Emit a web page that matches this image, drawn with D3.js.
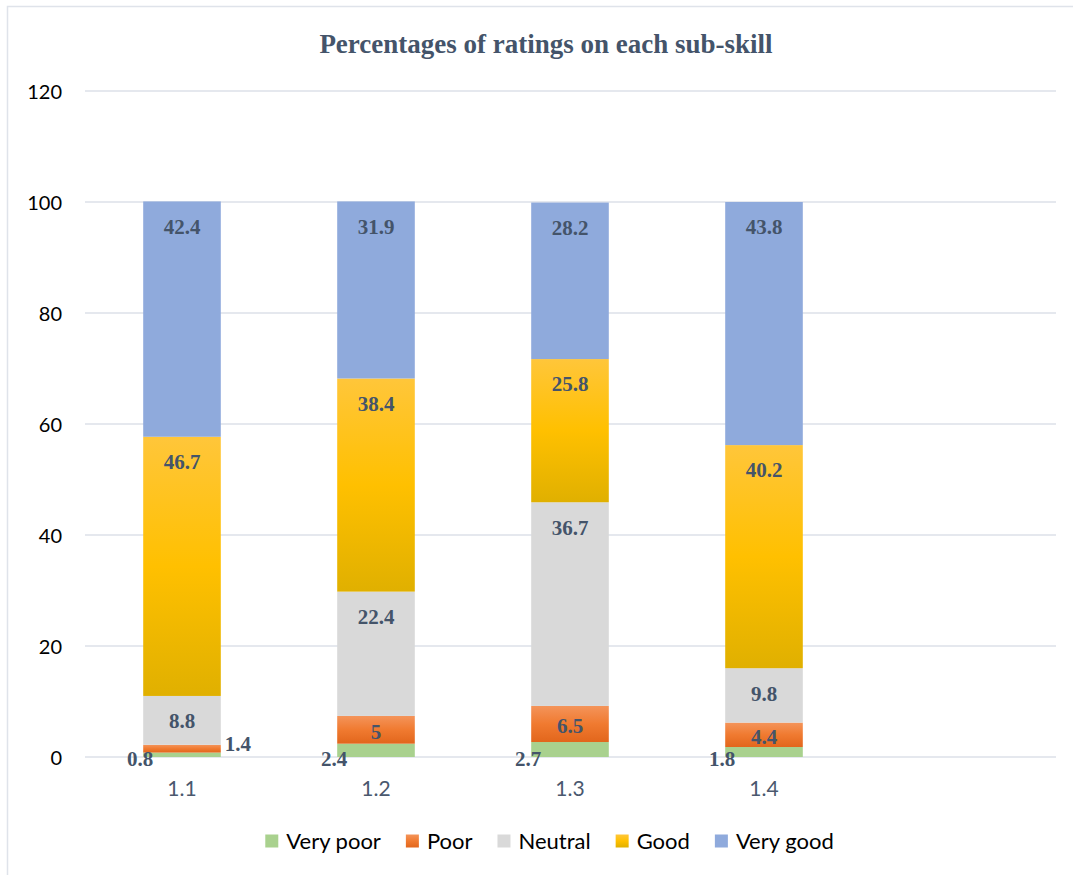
<!DOCTYPE html>
<html>
<head>
<meta charset="utf-8">
<script src="https://cdn.jsdelivr.net/npm/d3@7"></script>
<style>
  html, body { margin: 0; padding: 0; background: #fff; }
  svg { display: block; }
</style>
</head>
<body>
<svg id="chart" width="1073" height="875"></svg>
<script>
// ---- data ----
const categories = ["1.1", "1.2", "1.3", "1.4"];
const seriesNames = ["Very poor", "Poor", "Neutral", "Good", "Very good"];
const veryPoor = [0.8, 2.4, 2.7, 1.8];
const poor     = [1.4, 5, 6.5, 4.4];
const neutral  = [8.8, 22.4, 36.7, 9.8];
const good     = [46.7, 38.4, 25.8, 40.2];
const veryGood = [42.4, 31.9, 28.2, 43.8];
const yTicks   = [0, 20, 40, 60, 80, 100, 120];
const titleText = "Percentages of ratings on each sub-skill";

const seriesValues = [veryPoor, poor, neutral, good, veryGood];
const rows = categories.map((c, i) => {
  const r = { cat: c };
  seriesNames.forEach((s, k) => r[s] = seriesValues[k][i]);
  return r;
});

// ---- layout ----
const W = 1073, H = 875;
const plotL = 85, plotR = 1055, plotB = 757, plotT = 91;
const labelColor = "#44546a";
const sansFont = "Lato, 'Open Sans', 'Liberation Sans', sans-serif";
const serifFont = "'Liberation Serif', 'DejaVu Serif', serif";

const svg = d3.select("#chart");
const defs = svg.append("defs");

function vGrad(id, stops) {
  const g = defs.append("linearGradient").attr("id", id)
    .attr("x1", 0).attr("y1", 0).attr("x2", 0).attr("y2", 1);
  stops.forEach(([o, c]) => g.append("stop").attr("offset", o).attr("stop-color", c));
}
vGrad("gradGood", [[0, "#ffc63a"], [0.5, "#ffc000"], [1, "#e0b000"]]);
vGrad("gradPoor", [[0, "#f4945a"], [0.5, "#f07a30"], [1, "#e2661c"]]);

const fills = {
  "Very poor": "#a9d18e",
  "Poor": "url(#gradPoor)",
  "Neutral": "#d9d9d9",
  "Good": "url(#gradGood)",
  "Very good": "#8faadc"
};

svg.append("rect").attr("width", W).attr("height", H).attr("fill", "#fff");

// chart border (partly cropped)
svg.append("path")
  .attr("d", `M7.5,${H + 2} L7.5,6.5 L${W + 2},6.5`)
  .attr("fill", "none").attr("stroke", "#dfe3ea").attr("stroke-width", 1.5);

// scales: one extra empty slot after the last category
const x = d3.scaleBand()
  .domain(categories.concat([" "]))
  .range([plotL, plotR])
  .paddingInner(0.6).paddingOuter(0.3);
const y = d3.scaleLinear().domain([0, 120]).range([plotB, plotT]);

// gridlines
svg.append("g").selectAll("line").data(yTicks).join("line")
  .attr("x1", plotL).attr("x2", plotR + 1)
  .attr("y1", d => y(d)).attr("y2", d => y(d))
  .attr("stroke", "#dde1e9").attr("stroke-width", 1.5);

// y axis labels
const yAxis = d3.axisLeft(y).tickValues(yTicks).tickSize(0).tickPadding(0);
const yG = svg.append("g").attr("transform", `translate(62,0)`).call(yAxis);
yG.select(".domain").remove();
yG.selectAll("text")
  .attr("font-family", sansFont).attr("font-size", 20)
  .attr("fill", "#000").attr("dy", "0.35em");

// x axis labels
const xAxis = d3.axisBottom(x).tickValues(categories).tickSize(0).tickPadding(0);
const xG = svg.append("g").attr("transform", `translate(0,${plotB + 32})`).call(xAxis);
xG.select(".domain").remove();
xG.selectAll("text")
  .attr("font-family", sansFont).attr("font-size", 21)
  .attr("fill", "#4a586e").attr("dy", "0.35em").attr("y", 0);

// stacked bars
const stack = d3.stack().keys(seriesNames);
const stacked = stack(rows);

const barG = svg.append("g");
stacked.forEach(layer => {
  barG.append("g").selectAll("rect").data(layer).join("rect")
    .attr("x", d => x(d.data.cat))
    .attr("width", x.bandwidth())
    .attr("y", d => y(d[1]))
    .attr("height", d => y(d[0]) - y(d[1]))
    .attr("fill", fills[layer.key]);
});

// data labels
const lblG = svg.append("g")
  .attr("font-family", serifFont).attr("font-weight", "bold")
  .attr("font-size", 21).attr("fill", labelColor);
stacked.forEach(layer => {
  layer.forEach(d => {
    const v = d.data[layer.key];
    const top = y(d[1]), bot = y(d[0]);
    const h = bot - top;
    let lx, ly, anchor = "middle";
    if (layer.key === "Very poor") {
      lx = x(d.data.cat) - 3;
      ly = y(0) + 2;
    } else if (h < 15) {
      lx = x(d.data.cat) + x.bandwidth() + 4;
      ly = (top + bot) / 2 - 5;
      anchor = "start";
    } else {
      lx = x(d.data.cat) + x.bandwidth() / 2;
      ly = top + Math.min(25, h / 2 + 2);
    }
    lblG.append("text")
      .attr("x", lx).attr("y", ly)
      .attr("text-anchor", anchor).attr("dy", "0.35em")
      .text(String(v));
  });
});

// title
svg.append("text")
  .attr("x", 546).attr("y", 44)
  .attr("text-anchor", "middle").attr("dy", "0.35em")
  .attr("font-family", serifFont).attr("font-weight", "bold")
  .attr("font-size", 27).attr("fill", labelColor)
  .text(titleText);

// legend
const legG = svg.append("g").attr("font-family", sansFont).attr("font-size", 22).attr("fill", "#000");
const items = [];
let cx = 0;
const gap = 25;
seriesNames.forEach(s => {
  const g = legG.append("g");
  g.append("rect").attr("x", 0).attr("y", -6.5).attr("width", 13).attr("height", 13)
    .attr("fill", fills[s]);
  const t = g.append("text").attr("x", 21).attr("y", 0).attr("dy", "0.35em").text(s);
  const w = 21 + t.node().getComputedTextLength();
  items.push({ g, x: cx });
  cx += w + gap;
});
const totalW = cx - gap;
const startX = 549.5 - totalW / 2;
items.forEach(it => it.g.attr("transform", `translate(${startX + it.x},841)`));
</script>
</body>
</html>
